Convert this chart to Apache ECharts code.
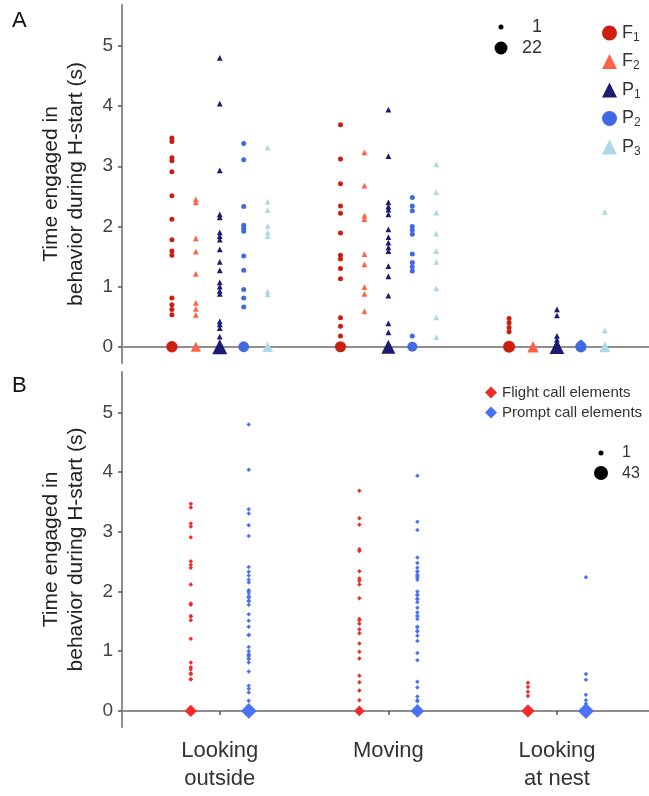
<!DOCTYPE html>
<html lang="en">
<head>
<meta charset="UTF-8">
<title>H-start behaviour</title>
<style>
    *{margin:0;padding:0;}
    html,body{width:100%;height:100%;background:#fff;}
    #chart{width:649px;height:796px;}
</style>
</head>
<body>
<div id="chart"></div>
<script src="https://cdn.jsdelivr.net/npm/echarts@6/dist/echarts.min.js"></script>
<script>
var categories = ['Looking\noutside', 'Moving', 'Looking\nat nest'];
var yTicks = [0, 1, 2, 3, 4, 5];

// non-zero times (s), one element each, per behaviour; zeros are pooled in *Zeros
var f1Times = [
    [3.47, 3.41, 3.14, 3.09, 2.91, 2.51, 2.12, 1.78, 1.59, 1.52, 0.81, 0.70, 0.62, 0.53],
    [3.69, 3.12, 2.71, 2.34, 2.22, 1.89, 1.52, 1.46, 1.30, 1.13, 0.48, 0.34, 0.18],
    [0.47, 0.40, 0.32, 0.25]
];
var f1Zeros = [14, 13, 17];

var f2Times = [
    [2.45, 2.40, 1.80, 1.58, 1.21, 0.73, 0.63, 0.53],
    [3.23, 2.68, 2.18, 2.12, 1.54, 1.37, 0.99, 0.88, 0.59],
    []
];
var f2Zeros = [6, 0, 9];

var p1Times = [
    [4.80, 4.04, 2.93, 2.20, 2.15, 1.90, 1.84, 1.78, 1.62, 1.41, 1.27, 1.07, 1.00, 0.93, 0.88, 0.42, 0.37, 0.31, 0.17],
    [3.94, 3.17, 2.40, 2.33, 2.28, 2.20, 1.95, 1.82, 1.73, 1.65, 1.59, 1.34, 1.17, 0.85, 0.39, 0.24],
    [0.62, 0.52, 0.18, 0.12, 0.07]
];
var p1Zeros = [22, 18, 21];

var p2Times = [
    [3.38, 3.11, 2.33, 2.02, 1.97, 1.92, 1.51, 1.27, 0.95, 0.81, 0.66],
    [2.48, 2.34, 2.26, 2.00, 1.94, 1.87, 1.54, 1.40, 1.33, 1.26, 0.18],
    [0.07]
];
var p2Zeros = [12, 9, 14];

var p3Times = [
    [3.31, 2.41, 2.27, 2.01, 1.90, 1.84, 0.92, 0.87],
    [3.03, 2.57, 2.23, 1.88, 1.59, 1.41, 0.97, 0.49, 0.16],
    [2.24, 0.27]
];
var p3Zeros = [7, 0, 8];

var chart = echarts.init(document.getElementById('chart'));
var FONT = 'Liberation Sans, Arial, sans-serif';

function sizeFor(n, nMax, dMin, dMax) {
    return dMin + Math.sqrt((n - 1) / (nMax - 1)) * (dMax - dMin);
}

function points(times, zeros, offset) {
    var out = [];
    for (var i = 0; i < categories.length; i++) {
        times[i].forEach(function (v) { out.push([i + 1 + offset, v, 1]); });
        if (zeros[i] > 0) out.push([i + 1 + offset, 0, zeros[i]]);
    }
    return out;
}

// panel B pools the F and P individuals
function pool(lists) {
    return categories.map(function (c, i) {
        var all = [];
        lists.forEach(function (l) { all = all.concat(l[i]); });
        return all;
    });
}
function poolZeros(lists) {
    return categories.map(function (c, i) {
        var s = 0;
        lists.forEach(function (l) { s += l[i]; });
        return s;
    });
}
var flightTimes = pool([f1Times, f2Times]);
var flightZeros = poolZeros([f1Zeros, f2Zeros]);
var promptTimes = pool([p1Times, p2Times, p3Times]);
var promptZeros = poolZeros([p1Zeros, p2Zeros, p3Zeros]);

var maxA = 22, maxB = 43;
var dodgeA = 0.142, dodgeB = 0.172;

function seriesA(name, times, zeros, k, symbol, color, scale) {
    return {
        name: name, type: 'scatter', xAxisIndex: 0, yAxisIndex: 0,
        symbol: symbol,
        symbolSize: function (v) { return sizeFor(v[2], maxA, 5, 13) * scale; },
        itemStyle: {color: color, opacity: 1},
        data: points(times, zeros, k * dodgeA)
    };
}
function seriesB(name, times, zeros, k, color) {
    return {
        name: name, type: 'scatter', xAxisIndex: 1, yAxisIndex: 1,
        symbol: 'diamond',
        symbolSize: function (v) { return sizeFor(v[2], maxB, 4.5, 16); },
        itemStyle: {color: color, opacity: 1},
        data: points(times, zeros, k * dodgeB)
    };
}

function xAxis(idx, labels) {
    return {
        type: 'value', gridIndex: idx, min: 0.42, max: 3.546,
        axisLine: {show: true, lineStyle: {color: '#8f8f8f', width: 2}},
        axisTick: {show: true, customValues: [1, 2, 3], length: 4, lineStyle: {color: '#555', width: 1.5}},
        axisLabel: {show: labels, customValues: [1, 2, 3], margin: 10,
            formatter: function (v) { return categories[Math.round(v) - 1]; },
            color: '#333', fontFamily: FONT, fontSize: 22, lineHeight: 28},
        splitLine: {show: false}
    };
}
function yAxis(idx) {
    return {
        type: 'value', gridIndex: idx, min: -0.27, max: 5.68,
        name: 'Time engaged in\nbehavior during H-start (s)',
        nameLocation: 'middle', nameRotate: 90, nameGap: 33,
        nameTextStyle: {color: '#222', fontFamily: FONT, fontSize: 21, lineHeight: 25},
        axisLine: {show: true, lineStyle: {color: '#8f8f8f', width: 2}},
        axisTick: {show: true, customValues: yTicks, length: 4, lineStyle: {color: '#555', width: 1.5}},
        axisLabel: {customValues: yTicks, margin: 9, color: '#444', fontFamily: FONT, fontSize: 19},
        splitLine: {show: false}
    };
}

var legendRich = {
    b: {fontSize: 18, fontFamily: FONT, color: '#333'},
    s: {fontSize: 12, fontFamily: FONT, color: '#333', padding: [9, 0, 0, 0]}
};

var option = {
    animation: false,
    backgroundColor: '#fff',
    grid: [
        {left: 122, right: 0, top: 5, height: 358},
        {left: 122, right: 0, top: 372, height: 355}
    ],
    xAxis: [xAxis(0, false), xAxis(1, true)],
    yAxis: [yAxis(0), yAxis(1)],
    legend: [
        {
            orient: 'vertical', left: 597, top: 19, itemGap: 9,
            itemWidth: 15, itemHeight: 15,
            data: [
                {name: 'F1', icon: 'circle'}, {name: 'F2', icon: 'triangle'},
                {name: 'P1', icon: 'triangle'}, {name: 'P2', icon: 'circle'},
                {name: 'P3', icon: 'triangle'}
            ],
            formatter: function (n) { return '{b|' + n.charAt(0) + '}{s|' + n.charAt(1) + '}'; },
            textStyle: {rich: legendRich}
        },
        {
            orient: 'vertical', left: 480, top: 380, itemGap: 5,
            itemWidth: 12, itemHeight: 12, icon: 'diamond',
            data: ['Flight call elements', 'Prompt call elements'],
            textStyle: {fontFamily: FONT, fontSize: 15, color: '#333'}
        }
    ],
    graphic: [
        {type: 'text', left: 12, top: 10, style: {text: 'A', fontFamily: FONT, fontSize: 22, fill: '#111'}},
        {type: 'text', left: 12, top: 375, style: {text: 'B', fontFamily: FONT, fontSize: 22, fill: '#111'}},
        // size keys
        {type: 'circle', shape: {cx: 501, cy: 27, r: 2.5}, style: {fill: '#000'}},
        {type: 'circle', shape: {cx: 501, cy: 48, r: 6.5}, style: {fill: '#000'}},
        {type: 'text', x: 542, y: 27, style: {text: '1', align: 'right', verticalAlign: 'middle', fontFamily: FONT, fontSize: 18, fill: '#333'}},
        {type: 'text', x: 542, y: 48, style: {text: '22', align: 'right', verticalAlign: 'middle', fontFamily: FONT, fontSize: 18, fill: '#333'}},
        {type: 'circle', shape: {cx: 601, cy: 453, r: 2.5}, style: {fill: '#000'}},
        {type: 'circle', shape: {cx: 601, cy: 473, r: 7}, style: {fill: '#000'}},
        {type: 'text', x: 622, y: 453, style: {text: '1', verticalAlign: 'middle', fontFamily: FONT, fontSize: 16, fill: '#333'}},
        {type: 'text', x: 622, y: 474, style: {text: '43', verticalAlign: 'middle', fontFamily: FONT, fontSize: 16, fill: '#333'}}
    ],
    series: [
        seriesA('F1', f1Times, f1Zeros, -2, 'circle', '#cc1f10', 1),
        seriesA('F2', f2Times, f2Zeros, -1, 'triangle', '#ff6347', 1.15),
        seriesA('P1', p1Times, p1Zeros, 0, 'triangle', '#1b1b72', 1.15),
        seriesA('P2', p2Times, p2Zeros, 1, 'circle', '#4169e1', 1),
        seriesA('P3', p3Times, p3Zeros, 2, 'triangle', '#add8e6', 1.15),
        seriesB('Flight call elements', flightTimes, flightZeros, -1, '#f22a2a'),
        seriesB('Prompt call elements', promptTimes, promptZeros, 1, '#4a72f2')
    ]
};
chart.setOption(option);
window.onresize = function () { chart.resize(); };
</script>
</body>
</html>
